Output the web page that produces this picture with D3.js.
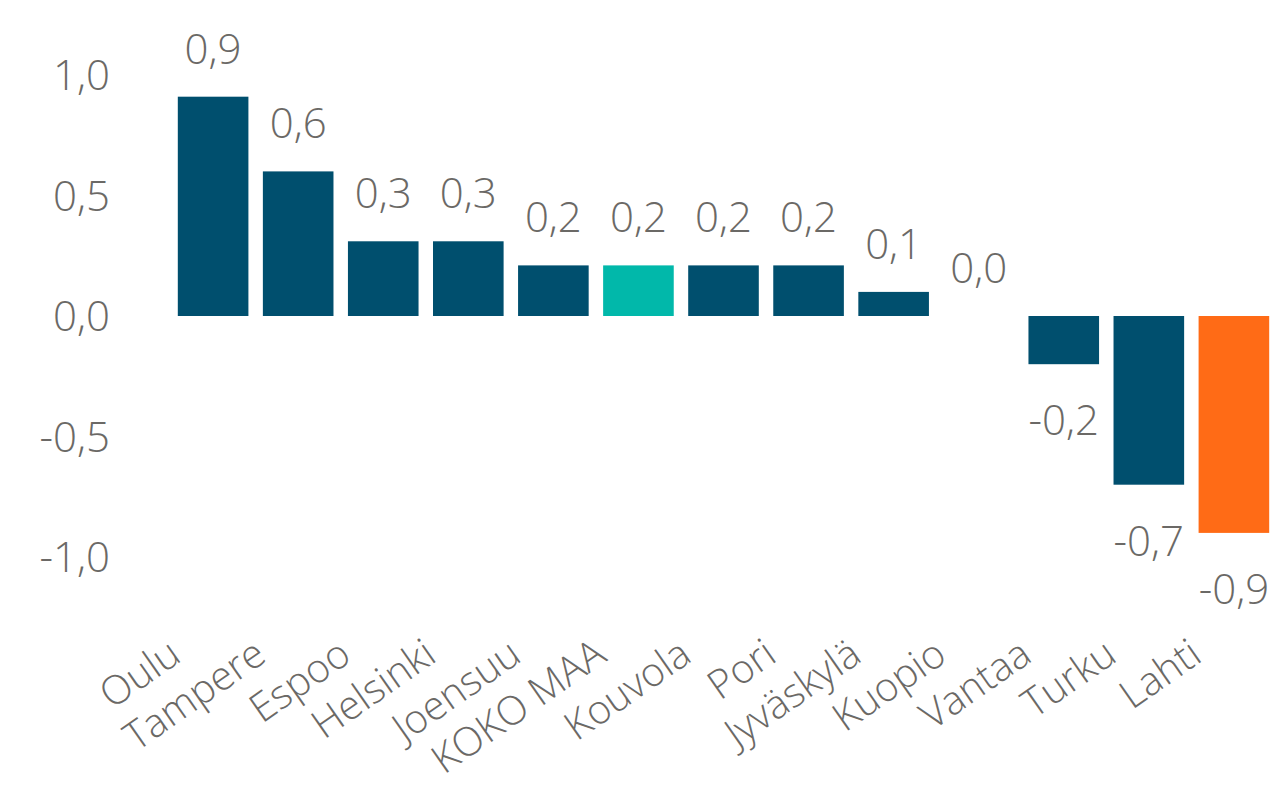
<!DOCTYPE html>
<html>
<head>
<meta charset="utf-8">
<script src="https://cdn.jsdelivr.net/npm/d3@7"></script>
<style>
  html, body { margin: 0; padding: 0; background: #fff; }
  svg { display: block; }
  text { font-family: "Open Sans", "Noto Sans", sans-serif; font-weight: 300; fill: #6b6966; }
</style>
</head>
<body>
<svg id="chart" width="1277" height="786"></svg>
<script>
const categories = ["Oulu", "Tampere", "Espoo", "Helsinki", "Joensuu", "KOKO MAA", "Kouvola", "Pori", "Jyväskylä", "Kuopio", "Vantaa", "Turku", "Lahti"];
const values = [0.91, 0.6, 0.31, 0.31, 0.21, 0.21, 0.21, 0.21, 0.1, 0.0, -0.2, -0.7, -0.9];
const valueLabels = ["0,9", "0,6", "0,3", "0,3", "0,2", "0,2", "0,2", "0,2", "0,1", "0,0", "-0,2", "-0,7", "-0,9"];
const yTicks = [-1.0, -0.5, 0.0, 0.5, 1.0];
const yTickLabels = ["-1,0", "-0,5", "0,0", "0,5", "1,0"];
const highlight = { "KOKO MAA": "#01b8aa", "Lahti": "#ff6b16" };
const baseColor = "#004f6e";

const svg = d3.select("#chart");
const x = d3.scaleBand().domain(categories).range([171, 1276]).paddingInner(0.17).paddingOuter(0.08);
const y = d3.scaleLinear().domain([-1, 1]).range([557, 75]);

// y axis labels
const yAxis = d3.axisLeft(y).tickValues(yTicks).tickFormat((d, i) => yTickLabels[i]).tickSize(0).tickPadding(0);
const ya = svg.append("g").attr("transform", "translate(110,0)").call(yAxis);
ya.select(".domain").remove();
ya.selectAll("text").attr("font-size", 42).attr("font-family", null).attr("dy", "0.35em");

// bars
svg.append("g").selectAll("rect").data(categories).join("rect")
  .attr("x", d => x(d))
  .attr("width", x.bandwidth())
  .attr("y", (d, i) => y(Math.max(0, values[i])))
  .attr("height", (d, i) => Math.abs(y(values[i]) - y(0)))
  .attr("fill", d => highlight[d] || baseColor);

// value labels
svg.append("g").selectAll("text").data(categories).join("text")
  .attr("x", d => x(d) + x.bandwidth() / 2)
  .attr("y", (d, i) => values[i] >= 0 ? y(values[i]) - 33 : y(values[i]) + 71)
  .attr("text-anchor", "middle")
  .attr("font-size", 42)
  .text((d, i) => valueLabels[i]);

// x axis labels
const xAxis = d3.axisBottom(x).tickSize(0).tickPadding(0);
const xa = svg.append("g").attr("transform", "translate(0,660)").call(xAxis);
xa.select(".domain").remove();
xa.selectAll("text")
  .attr("font-size", 40)
  .attr("font-family", null)
  .attr("dy", 0)
  .attr("y", 0)
  .attr("text-anchor", "end")
  .attr("transform", "translate(-30,0) rotate(-35)");
</script>
</body>
</html>
